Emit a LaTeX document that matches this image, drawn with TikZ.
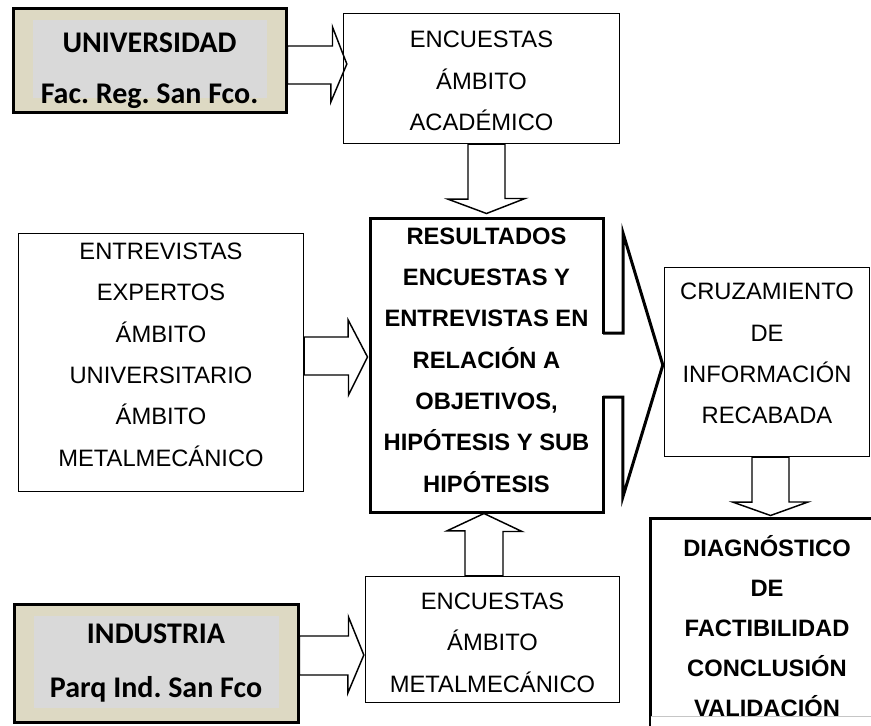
\documentclass[tikz,border=0pt]{standalone}
\usepackage{fontspec}
\setmainfont{Liberation Sans}
\newfontfamily\calibrifont{Carlito}
\usepackage{tikz}
\usetikzlibrary{calc}
\definecolor{tanbg}{HTML}{DDD9C3}
\definecolor{greybg}{HTML}{D9D9D9}
\frenchspacing

\begin{document}
\begin{tikzpicture}[
	x=0.75pt, y=-0.75pt,
	box/.style={rectangle, draw, line width=1pt, align=center, inner sep=0pt, font=\fontsize{17.8pt}{31pt}\selectfont},
	keybox/.style={box, line width=2.25pt, font=\fontsize{17.8pt}{31pt}\selectfont\bfseries},
	origin/.style={rectangle, draw, line width=2.25pt, fill=tanbg, align=center, inner sep=0pt,
		font=\calibrifont\bfseries\fontsize{22.5pt}{38pt}\selectfont,
		path picture={\fill[greybg] ($(path picture bounding box.north west)+(20,12)$) rectangle ($(path picture bounding box.south east)+(-19,-14)$);}},
	blk/.style={draw, line width=1.1pt, line join=miter},
	keyline/.style={draw, line width=2.25pt, line join=miter}
]
\useasboundingbox (0,0) rectangle (871,725);
\clip (0,0) rectangle (871,725);

\node[origin, minimum width=204.75pt, minimum height=78pt] (uni) at (149.5,60) {\rule{0pt}{30.5pt}UNIVERSIDAD\\Fac. Reg. San Fco.};
\node[box, minimum width=207pt, minimum height=97.5pt] (acad) at (481.5,78.5) {\rule{0pt}{16.4pt}ENCUESTAS\\ÁMBITO\\ACADÉMICO};
\node[box, minimum width=213.75pt, minimum height=193.5pt] (entre) at (161,362.5) {ENTREVISTAS\\EXPERTOS\\ÁMBITO\\UNIVERSITARIO\\ÁMBITO\\METALMECÁNICO\rule[-12pt]{0pt}{0pt}};
\node[keybox, minimum width=174.75pt, minimum height=220.5pt] (res) at (486.5,365) {RESULTADOS\\ENCUESTAS Y\\ENTREVISTAS EN\\RELACIÓN A\\OBJETIVOS,\\HIPÓTESIS Y SUB\\HIPÓTESIS\rule[-7.5pt]{0pt}{0pt}};
\node[box, minimum width=153.75pt, minimum height=141.75pt] (cruz) at (767,362) {CRUZAMIENTO\\DE\\INFORMACIÓN\\RECABADA\rule[-12.8pt]{0pt}{0pt}};
\node[keybox, minimum width=175.5pt, minimum height=162pt, font=\fontsize{17.8pt}{30pt}\selectfont\bfseries] (diag) at (767,626) {DIAGNÓSTICO\\DE\\FACTIBILIDAD\\CONCLUSIÓN\\VALIDACIÓN};
\node[box, minimum width=190.5pt, minimum height=94.5pt] (encm) at (492.5,639.5) {\rule{0pt}{17.1pt}ENCUESTAS\\ÁMBITO\\METALMECÁNICO};
\node[origin, minimum width=213pt, minimum height=88.5pt, font=\calibrifont\bfseries\fontsize{22.5pt}{41pt}\selectfont] (ind) at (156,663) {INDUSTRIA\\Parq Ind. San Fco};

% flechas de bloque
\draw[blk] ($(uni.east)+(0,-14)$) -- ++(45,0) -- ++(0,-19) -- ($(acad.west)+(4,-14.5)$) -- ($(acad.west)+(-12,23.5)$) -- ++(0,-18) -- ($(uni.east)+(0,24)$) -- cycle;
\draw[blk] ($(acad.south -| res.north)+(-18.5,0)$) -- ++(0,55) -- ++(-20,0) -- ($(res.north)+(0,-3)$) -- ++(38.5,-15) -- ++(-20,0) -- ($(acad.south -| res.north)+(18.5,0)$) -- cycle;
\draw[blk] ($(entre.east)+(0,-25.5)$) -- ++(44,0) -- ++(0,-17) -- ($(res.west)+(-1,-8)$) -- ++(-19,38) -- ++(0,-20) -- ($(entre.east)+(0,12.5)$) -- cycle;
\draw[blk] ($(ind.east)+(0,-27)$) -- ++(49,0) -- ++(0,-19) -- ($(encm.west)+(-1,15.5)$) -- ++(-16,38) -- ++(0,-18) -- ($(ind.east)+(0,12)$) -- cycle;
\draw[blk] ($(encm.north -| res.south)+(-21.5,0)$) -- ++(0,-45) -- ++(-18,0) -- ($(res.south)+(-2.5,0)$) -- ++(38,18) -- ++(-19,0) -- ($(encm.north -| res.south)+(16.5,0)$) -- cycle;
\draw[blk] ($(cruz.south)+(-15,0)$) -- ++(0,45) -- ++(-19,0) -- ($(diag.north)+(3.5,-1)$) -- ++(37.5,-13.5) -- ++(-19,0) -- ($(cruz.south)+(22,0)$) -- cycle;
% la flecha gruesa abre el borde derecho de res
\fill[white] ($(res.east)+(-3,-31)$) rectangle ($(res.east)+(1,31)$);
\draw[keyline] ($(res.east)+(-1.5,-32)$) -- ++(20,0) -- ++(0,-100) -- ($(cruz.west)+(-1,3)$) -- ++(-40,132) -- ++(0,-100) -- ++(-20,0);
% corte inferior del cuadro de diagnóstico
\fill[white] ($(diag.south west)+(2,-19)$) rectangle ($(diag.south east)+(0,2)$);
\draw[gray!45, line width=0.75pt] ($(diag.south west)+(2,-19)$) -- ($(diag.south east)+(0,-19)$);
\end{tikzpicture}
\end{document}
